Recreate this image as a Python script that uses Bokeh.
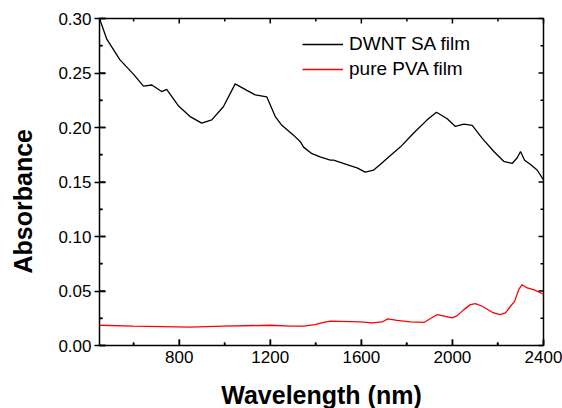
from bokeh.plotting import figure
from bokeh.models import (FixedTicker, Legend, LegendItem, Range1d,
                          NumeralTickFormatter, Title)
from bokeh.embed import file_html
from bokeh.resources import INLINE

# ---- data ----
dwnt_wl = [450, 482, 540, 599, 643, 680, 723, 745, 796, 848, 899, 943, 994, 1046,
           1097, 1134, 1185, 1222, 1251, 1302, 1332, 1346, 1383, 1419, 1464, 1478,
           1537, 1581, 1617, 1654, 1683, 1720, 1771, 1830, 1889, 1930, 1977, 2013,
           2050, 2087, 2131, 2182, 2225, 2262, 2284, 2299, 2317, 2343, 2372, 2400]
dwnt_abs = [0.300, 0.281, 0.262, 0.249, 0.238, 0.239, 0.233, 0.235, 0.220, 0.210,
            0.204, 0.207, 0.219, 0.240, 0.234, 0.230, 0.228, 0.210, 0.202, 0.193,
            0.187, 0.182, 0.176, 0.173, 0.170, 0.170, 0.166, 0.163, 0.159, 0.161,
            0.166, 0.173, 0.182, 0.195, 0.207, 0.214, 0.208, 0.201, 0.203, 0.202,
            0.190, 0.178, 0.169, 0.167, 0.172, 0.178, 0.170, 0.166, 0.161, 0.152]

pva_wl = [450, 599, 848, 994, 1200, 1288, 1346, 1397, 1430, 1463, 1595, 1647, 1691,
          1716, 1757, 1815, 1877, 1933, 1999, 2021, 2050, 2079, 2101, 2131, 2175,
          2208, 2233, 2255, 2273, 2291, 2306, 2328, 2357, 2400]
pva_abs = [0.0186, 0.0177, 0.0168, 0.0177, 0.0186, 0.0177, 0.0177, 0.0192, 0.0210,
           0.0223, 0.0216, 0.0207, 0.0216, 0.0244, 0.0231, 0.0216, 0.0213, 0.0284,
           0.0253, 0.0274, 0.0329, 0.0375, 0.0384, 0.0360, 0.0305, 0.0284, 0.0299,
           0.0360, 0.0405, 0.0512, 0.0558, 0.0528, 0.0512, 0.0470]

series_names = ["DWNT SA film", "pure PVA film"]
x_ticks = [800, 1200, 1600, 2000, 2400]
x_minor = [600, 1000, 1400, 1800, 2200]
y_ticks = [0.0, 0.05, 0.10, 0.15, 0.20, 0.25, 0.30]
y_minor = [0.025, 0.075, 0.125, 0.175, 0.225, 0.275]
x_lim = (450, 2400)
y_lim = (0.0, 0.30)
x_title = "Wavelength (nm)"
y_title = "Absorbance"

FONT = "Liberation Sans"
W, H = 562, 408
BL, BR, BT, BB = 99, 19, 18, 62

p = figure(width=W, height=H, output_backend="svg", toolbar_location=None,
           x_range=Range1d(*x_lim), y_range=Range1d(*y_lim),
           min_border_left=BL, min_border_right=BR, min_border_top=BT,
           min_border_bottom=BB)
p.grid.visible = False
p.outline_line_color = "black"
p.outline_line_width = 1.5

r1 = p.line(dwnt_wl, dwnt_abs, line_color="black", line_width=1.3)
r2 = p.line(pva_wl, pva_abs, line_color="#ff0000", line_width=1.3)

# inward tick marks: tick length in pixels converted to data units of the frame
ux = (x_lim[1] - x_lim[0]) / (W - BL - BR)
uy = (y_lim[1] - y_lim[0]) / (H - BT - BB)
xs0, xs1, ys0, ys1 = [], [], [], []
for t, lo, hi in [(t, 6, 5) for t in x_ticks] + [(t, 3, 3) for t in x_minor]:
    xs0 += [t, t]; xs1 += [t, t]
    ys0 += [y_lim[0], y_lim[1]]
    ys1 += [y_lim[0] + lo * uy, y_lim[1] - hi * uy]
for t, lo, hi in [(t, 6, 5) for t in y_ticks] + [(t, 3, 3) for t in y_minor]:
    ys0 += [t, t]; ys1 += [t, t]
    xs0 += [x_lim[0], x_lim[1]]
    xs1 += [x_lim[0] + lo * ux, x_lim[1] - hi * ux]
p.segment(x0=xs0, y0=ys0, x1=xs1, y1=ys1, line_color="black", line_width=1.5,
          level="overlay")

xa = p.xaxis[0]
xa.ticker = FixedTicker(ticks=x_ticks, minor_ticks=x_minor)
ya = p.yaxis[0]
ya.ticker = FixedTicker(ticks=y_ticks, minor_ticks=y_minor)
ya.formatter = NumeralTickFormatter(format="0.00")

for ax in (xa, ya):
    ax.axis_line_color = "black"
    ax.major_tick_line_color = "black"
    ax.minor_tick_line_color = "black"
    ax.major_tick_line_width = 1.5
    ax.minor_tick_line_width = 1.5
    ax.major_label_text_font = FONT
    ax.major_label_text_font_size = "17px"
    ax.major_label_text_color = "black"

xa.major_tick_in = 6
xa.major_tick_out = 0
xa.minor_tick_in = 3
xa.minor_tick_out = 0
xa.major_label_standoff = 5
# invisible spacer label to push the x title down
xa.axis_label = " "
xa.axis_label_text_font_size = "1px"
xa.axis_label_standoff = 9

ya.major_tick_in = 6
ya.major_tick_out = 5
ya.minor_tick_in = 3
ya.minor_tick_out = 0
ya.major_label_standoff = 3
# invisible spacer label to push the y title outward
ya.axis_label = " "
ya.axis_label_text_font_size = "1px"
ya.axis_label_standoff = 5

ytitle = Title(text=y_title, align="left", offset=72, standoff=15,
               vertical_align="top",
               text_font=FONT, text_font_size="25px", text_font_style="bold",
               text_color="black")
p.add_layout(ytitle, "left")

xtitle = Title(text=x_title, align="center", standoff=0, vertical_align="bottom",
               text_font=FONT, text_font_size="25px", text_font_style="bold",
               text_color="black")
p.add_layout(xtitle, "below")

legend = Legend(items=[LegendItem(label=series_names[0], renderers=[r1]),
                       LegendItem(label=series_names[1], renderers=[r2])],
                location=(203, 265), orientation="vertical",
                glyph_width=41, glyph_height=22, label_height=22, label_standoff=6,
                spacing=3, padding=0, margin=0,
                label_text_font=FONT, label_text_font_size="19px",
                label_text_color="black", border_line_color=None,
                background_fill_alpha=0)
p.add_layout(legend, "center")

open("out.html", "w").write(file_html(p, INLINE))
